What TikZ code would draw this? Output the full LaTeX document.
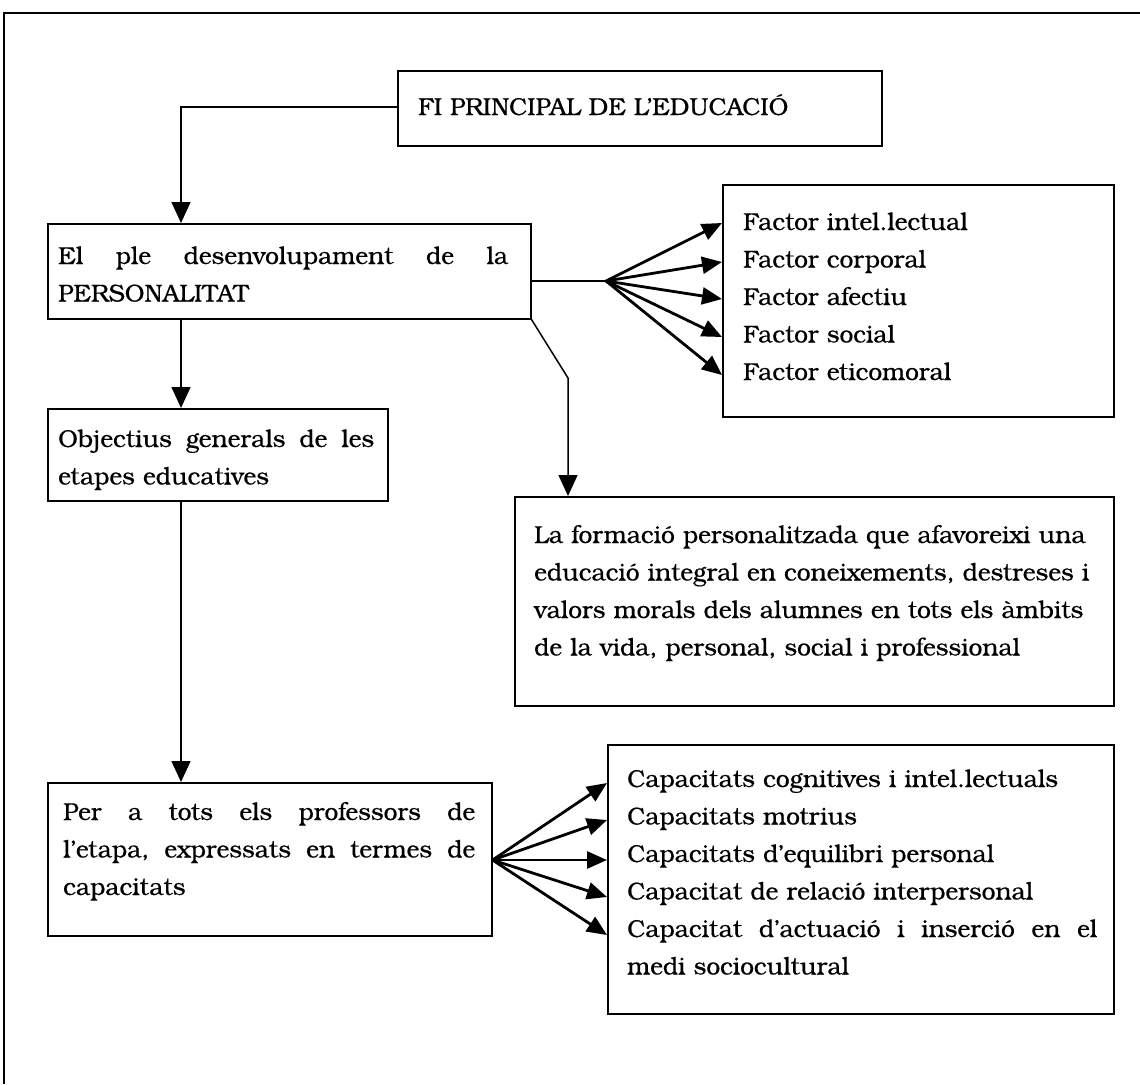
\documentclass[tikz,border=0pt]{standalone}
\usepackage{fontspec}
\setmainfont[FakeBold=0.5]{TeX Gyre Bonum}
\usetikzlibrary{arrows.meta}

\tikzset{
  box/.style={draw, line width=1.5pt, anchor=north west, inner sep=0pt},
  txt/.style={anchor=base west, inner sep=0pt, align=left,
              font=\fontsize{24.5}{37.5}\selectfont},
  link/.style={line width=1.5pt, -{Triangle[length=21pt,width=19pt]}},
  fan/.style={line width=2.8pt, -{Triangle[length=20pt,width=17pt]}},
  plain/.style={line width=1.5pt}
}
% a line set to a fixed width, the gaps between words filled evenly
\newcommand{\fullline}[2]{\leavevmode\hbox to #1{#2}}

\begin{document}
\begin{tikzpicture}[x=1pt,y=-1pt]
\useasboundingbox (0,0) rectangle (1140,1084);

% outer frame (top and left sides)
\draw[line width=1.5pt] (4,1084) -- (4,13) -- (1140,13);

% boxes
\node[box, minimum width=484pt, minimum height=75pt]  (fi)   at (397,70)  {};
\node[box, minimum width=483pt, minimum height=95pt]  (pers) at (47,223)  {};
\node[box, minimum width=391pt, minimum height=232pt] (fact) at (722,184) {};
\node[box, minimum width=340pt, minimum height=92pt]  (obj)  at (47,408)  {};
\node[box, minimum width=599pt, minimum height=209pt] (form) at (514,496) {};
\node[box, minimum width=444pt, minimum height=153pt] (prof) at (47,782)  {};
\node[box, minimum width=506pt, minimum height=269pt] (cap)  at (607,744) {};

% texts
\node[txt] (tfi) at (418,115) {FI PRINCIPAL DE L’EDUCACIÓ};
\node[txt, text width=450pt] (tpers) at (58,264)
  {\fullline{450pt}{El\hfill ple\hfill desenvolupament\hfill de\hfill la}\\PERSONALITAT};
\node[txt, text width=360pt] (tfact) at (743,230)
  {Factor intel.lectual\\Factor corporal\\Factor afectiu\\Factor social\\Factor eticomoral};
\node[txt, text width=316pt] (tobj) at (58,447)
  {\fullline{316pt}{Objectius\hfill generals\hfill de\hfill les}\\etapes educatives};
\node[txt, text width=566pt] (tform) at (534,543)
  {\fullline{566pt}{La formació personalitzada que afavoreixi una}\\
   \fullline{566pt}{educació integral en coneixements, destreses i}\\
   \fullline{566pt}{valors morals dels alumnes en tots els àmbits}\\
   de la vida, personal, social i professional};
\node[txt, text width=412pt] (tprof) at (63,820)
  {\fullline{412pt}{Per\hfill a\hfill tots\hfill els\hfill professors\hfill de}\\
   \fullline{412pt}{l’etapa,\hfill expressats\hfill en\hfill termes\hfill de}\\
   capacitats};
\node[txt, text width=470pt] (tcap) at (627,787)
  {Capacitats cognitives i intel.lectuals\\
   Capacitats motrius\\
   Capacitats d’equilibri personal\\
   Capacitat de relació interpersonal\\
   \fullline{470pt}{Capacitat\hfill d’actuació\hfill i\hfill inserció\hfill en\hfill el}\\
   medi sociocultural};

% vertical links
\coordinate (c1) at (181,107);
\draw[link] (fi.west |- c1) -- (c1) -- (c1 |- pers.north);
\draw[link] (c1 |- pers.south) -- (c1 |- obj.north);
\draw[link] (c1 |- obj.south) -- (c1 |- prof.north);
\coordinate (c2) at (568,378);
\draw[link] (pers.south east) -- (c2) -- (c2 |- form.north);

% fan towards the factors
\coordinate (f1) at (606,281);
\draw[plain] (pers.east |- f1) -- (f1);
\foreach \y in {223,262,299,337,375}
  \draw[fan] (f1) -- (fact.west |- 0,\y);

% fan towards the capacities
\coordinate (f2) at (491,860);
\foreach \y in {783,820,860,897,935}
  \draw[fan] (prof.east |- f2) -- (cap.west |- 0,\y);
\end{tikzpicture}
\end{document}
